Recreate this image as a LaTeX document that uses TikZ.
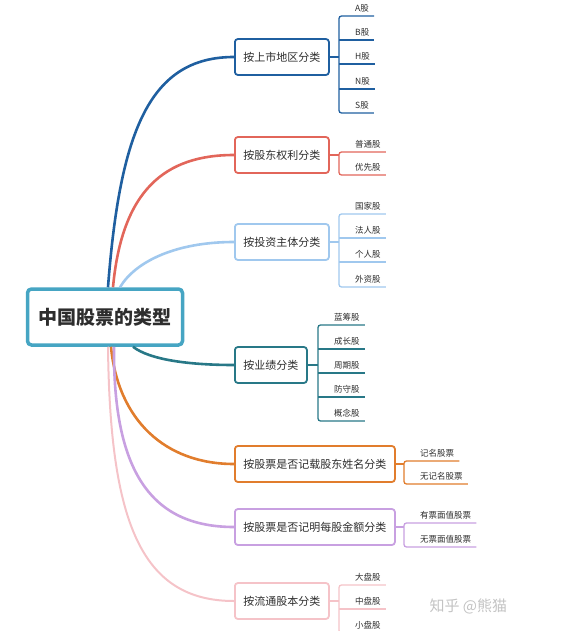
\documentclass[tikz,border=0pt]{standalone}
\usepackage{fontspec}
\setmainfont{Noto Sans CJK SC}
\usetikzlibrary{calc}
\definecolor{txt}{RGB}{45,45,45}
\definecolor{cCenter}{RGB}{70,165,195}
\definecolor{cBlue}{RGB}{31,95,160}
\definecolor{cRed}{RGB}{226,102,90}
\definecolor{cLight}{RGB}{160,200,238}
\definecolor{cTeal}{RGB}{40,120,135}
\definecolor{cOrange}{RGB}{225,125,45}
\definecolor{cPurple}{RGB}{200,160,225}
\definecolor{cPink}{RGB}{245,195,200}
\definecolor{cMark}{RGB}{195,195,195}
\begin{document}
\begin{tikzpicture}[x=1pt,y=-1pt,
  box/.style={draw=#1, line width=1.8pt, rounded corners=3pt, fill=white, text=txt,
    font=\fontsize{11}{13}\selectfont, minimum height=36pt, inner xsep=8.5pt, anchor=west},
  leaf/.style={font=\fontsize{8.5}{9}\selectfont, text=txt, inner xsep=5pt, inner ysep=3.5pt, anchor=south west},
  mainline/.style={draw=#1, line width=2.6pt},
  brk/.style={draw=#1, line width=1.3pt, rounded corners=2.5pt},
  twig/.style={draw=#1, line width=1.1pt},
]
\useasboundingbox (0,0) rectangle (564,631);

% central node
\node[draw=cCenter, line width=3.5pt, rounded corners=4pt, fill=white, text=txt,
  minimum width=155pt, minimum height=56pt, font=\fontsize{19}{22}\selectfont\bfseries]
  (C) at (105,317) {中国股票的类型};

% branch boxes
\node[box=cBlue]   (B1) at (234,57)  {按上市地区分类};
\node[box=cRed]    (B2) at (234,155) {按股东权利分类};
\node[box=cLight]  (B3) at (234,242) {按投资主体分类};
\node[box=cTeal]   (B4) at (234,365) {按业绩分类};
\node[box=cOrange] (B5) at (234,464) {按股票是否记载股东姓名分类};
\node[box=cPurple] (B6) at (234,527) {按股票是否记明每股金额分类};
\node[box=cPink]   (B7) at (234,601) {按流通股本分类};

% junctions
\coordinate (J1) at (339,57);
\coordinate (J2) at (339,155);
\coordinate (J3) at (339,242);
\coordinate (J4) at (318,365);
\coordinate (J5) at (404,464);
\coordinate (J6) at (404,527);
\coordinate (J7) at (339,601);

% leaves
\foreach \n/\y/\t in {1/16/A股,2/40/B股,3/64/H股,4/89/N股,5/113/S股}
  \node[leaf] (B1L\n) at (350,\y) {\t};
\foreach \n/\y/\t in {1/152/普通股,2/175/优先股}
  \node[leaf] (B2L\n) at (350,\y) {\t};
\foreach \n/\y/\t in {1/214/国家股,2/238/法人股,3/262/个人股,4/287/外资股}
  \node[leaf] (B3L\n) at (350,\y) {\t};
\foreach \n/\y/\t in {1/325/蓝筹股,2/349/成长股,3/373/周期股,4/397/防守股,5/421/概念股}
  \node[leaf] (B4L\n) at (329,\y) {\t};
\foreach \n/\y/\t in {1/461/记名股票,2/484/无记名股票}
  \node[leaf] (B5L\n) at (415,\y) {\t};
\foreach \n/\y/\t in {1/523/有票面值股票,2/547/无票面值股票}
  \node[leaf] (B6L\n) at (415,\y) {\t};
\foreach \n/\y/\t in {1/585/大盘股,2/609/中盘股,3/633/小盘股}
  \node[leaf] (B7L\n) at (350,\y) {\t};

% main curves
\draw[mainline=cBlue]   ([xshift=3pt]C.north)  .. controls (120,130) and (150,57)  .. (B1.west);
\draw[mainline=cRed]    ([xshift=8pt]C.north)  .. controls (122,190) and (165,155) .. (B2.west);
\draw[mainline=cLight]  ([xshift=15pt]C.north) .. controls (135,262) and (175,242) .. (B3.west);
\draw[mainline=cTeal]   ([xshift=28pt]C.south) .. controls (150,360) and (190,365) .. (B4.west);
\draw[mainline=cOrange] ([xshift=6pt]C.south)  .. controls (118,420) and (165,464) .. (B5.west);
\draw[mainline=cPurple] ([xshift=9pt]C.south)  .. controls (113,470) and (150,527) .. (B6.west);
\draw[mainline=cPink, line width=2pt] ([xshift=3pt]C.south) .. controls (110,520) and (140,601) .. (B7.west);

% brackets
\draw[brk=cBlue] (B1.east) -- (J1);
\draw[brk=cBlue] (B1L1.south east) -- (B1L1.south -| J1) -- (B1L5.south -| J1) -- (B1L5.south east);
\foreach \n in {2,3,4} \draw[twig=cBlue] (B1L\n.south -| J1) -- (B1L\n.south east);

\draw[brk=cRed] (B2.east) -- (J2);
\draw[brk=cRed] (B2L1.south east) -- (B2L1.south -| J2) -- (B2L2.south -| J2) -- (B2L2.south east);

\draw[brk=cLight] (B3.east) -- (J3);
\draw[brk=cLight] (B3L1.south east) -- (B3L1.south -| J3) -- (B3L4.south -| J3) -- (B3L4.south east);
\foreach \n in {2,3} \draw[twig=cLight] (B3L\n.south -| J3) -- (B3L\n.south east);

\draw[brk=cTeal] (B4.east) -- (J4);
\draw[brk=cTeal] (B4L1.south east) -- (B4L1.south -| J4) -- (B4L5.south -| J4) -- (B4L5.south east);
\foreach \n in {2,3,4} \draw[twig=cTeal] (B4L\n.south -| J4) -- (B4L\n.south east);

\draw[brk=cOrange] (B5.east) -- (J5);
\draw[brk=cOrange] (B5L1.south east) -- (B5L1.south -| J5) -- (B5L2.south -| J5) -- (B5L2.south east);

\draw[brk=cPurple] (B6.east) -- (J6);
\draw[brk=cPurple] (B6L1.south east) -- (B6L1.south -| J6) -- (B6L2.south -| J6) -- (B6L2.south east);

\draw[brk=cPink] (B7.east) -- (J7);
\draw[brk=cPink] (B7L1.south east) -- (B7L1.south -| J7) -- (B7L3.south -| J7) -- (B7L3.south east);
\draw[twig=cPink] (B7L2.south -| J7) -- (B7L2.south east);

% watermark
\node[text=cMark, font=\fontsize{15}{17}\selectfont, anchor=west] (W) at (426,606) {知乎 @熊猫};
\end{tikzpicture}
\end{document}
